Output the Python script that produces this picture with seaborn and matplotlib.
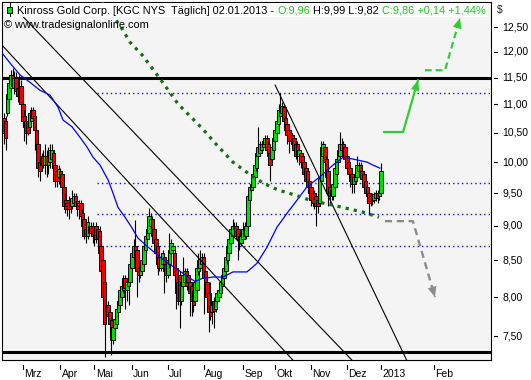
import numpy as np
import pandas as pd
import matplotlib
matplotlib.use("Agg")
import matplotlib.pyplot as plt
import seaborn as sns
from matplotlib.patches import Rectangle
from matplotlib.transforms import ScaledTranslation

# ---------------- data ----------------
opens = [10.75,10.70,10.85,11.10,11.30,11.55,11.30,11.50,11.30,11.10,11.35,11.00,10.80,10.70,10.70,10.60,10.70,10.90,10.80,10.55,
         10.30,10.00,10.10,10.10,9.95,10.10,9.95,10.00,10.05,10.15,9.95,9.85,9.75,9.85,9.80,9.60,9.40,9.35,9.40,9.38,
         9.30,9.35,9.45,9.38,9.35,9.35,9.20,9.10,8.95,8.85,8.90,9.00,9.00,8.85,9.00,8.95,8.93,8.70,8.50,8.20,
         7.90,7.90,7.80,7.70,7.45,7.60,7.65,7.80,7.90,8.00,8.10,8.25,8.10,8.15,8.20,8.40,8.55,8.70,8.65,8.40,
         8.30,8.35,8.45,8.65,8.80,8.90,9.00,9.10,8.95,8.80,8.70,8.55,8.40,8.45,8.55,8.45,8.30,8.45,8.60,8.65,
         8.60,8.40,8.20,8.30,7.95,8.15,8.20,8.35,8.30,8.20,8.15,8.10,7.95,8.10,8.35,8.40,8.45,8.55,8.35,8.20,
         8.05,7.90,7.80,7.95,7.85,7.95,8.00,8.05,8.15,8.25,8.35,8.50,8.60,8.75,8.85,8.95,9.00,8.95,8.85,8.75,
         8.80,8.95,8.85,9.00,9.40,9.55,9.60,9.75,9.90,10.10,10.15,10.20,10.25,10.30,10.40,10.30,10.15,10.05,10.20,10.35,
         10.50,10.65,10.80,10.85,10.95,10.75,10.65,10.55,10.50,10.45,10.40,10.30,10.30,10.10,10.15,10.10,10.00,9.90,9.85,9.70,
         9.60,9.50,9.50,9.45,9.40,9.35,9.70,10.10,10.25,10.05,9.85,9.60,9.55,9.45,9.60,9.80,10.00,10.10,10.20,10.30,
         10.25,10.10,10.00,9.90,9.80,9.65,9.70,9.75,9.85,9.95,9.85,9.80,9.70,9.60,9.50,9.45,9.38,9.40,9.42,9.50,
         9.45,9.50]
highs = [10.85,10.80,11.30,11.50,11.65,11.68,11.62,11.60,11.40,11.55,11.45,11.10,10.90,10.80,10.85,10.90,10.95,10.95,10.85,10.60,
         10.35,10.10,10.15,10.20,10.30,10.20,10.25,10.30,10.30,10.20,10.00,9.90,9.95,9.90,9.85,9.65,9.50,9.40,9.45,9.42,
         9.55,9.50,9.50,9.40,9.40,9.40,9.25,9.12,9.00,9.15,9.05,9.05,9.05,9.00,9.05,9.00,9.00,8.75,8.55,8.25,
         7.95,7.95,7.85,7.75,7.68,7.80,7.90,8.00,8.15,8.22,8.30,8.30,8.25,8.30,8.50,8.65,8.80,9.08,8.70,8.45,
         8.45,8.55,8.75,8.90,9.00,9.27,9.20,9.15,9.00,8.85,8.75,8.60,8.60,8.65,8.60,8.50,8.60,8.90,8.80,8.75,
         8.65,8.45,8.25,8.35,8.25,8.55,8.40,8.40,8.35,8.25,8.20,8.15,8.25,8.45,8.60,8.65,8.60,8.60,8.40,8.25,
         8.10,8.20,7.95,8.00,8.05,8.10,8.15,8.25,8.35,8.45,8.60,8.75,8.85,9.00,9.10,9.05,9.05,9.00,8.90,8.95,
         9.05,9.05,9.08,9.50,9.65,9.70,9.85,10.05,10.20,10.60,10.35,10.35,10.40,10.45,10.45,10.35,10.20,10.30,10.50,10.60,
         10.80,11.00,11.21,11.05,11.00,10.80,10.70,10.60,10.55,10.50,10.45,10.35,10.35,10.25,10.20,10.15,10.05,9.95,9.90,9.75,
         9.65,9.55,9.55,9.50,9.45,9.80,10.35,10.35,10.30,10.10,9.90,9.65,9.60,9.70,9.95,10.10,10.30,10.51,10.40,10.35,
         10.30,10.15,10.05,9.95,9.85,9.80,9.85,10.10,10.00,10.00,9.90,9.85,9.75,9.65,9.55,9.50,9.50,9.52,9.55,9.55,
         9.60,9.99]
lows = [10.30,10.20,10.80,11.00,11.20,11.30,11.20,11.15,11.05,11.00,10.90,10.60,10.35,10.30,10.45,10.55,10.60,10.60,10.20,10.15,
        9.75,9.70,9.85,9.90,9.80,9.75,9.80,9.90,9.95,9.85,9.60,9.60,9.65,9.65,9.50,9.25,9.20,9.15,9.10,9.20,
        9.25,9.30,9.25,9.15,9.10,9.10,8.95,8.80,8.75,8.80,8.85,8.85,8.75,8.70,8.75,8.70,8.50,8.30,7.95,7.25,
        7.70,7.65,7.55,7.27,7.40,7.50,7.60,7.75,7.85,7.95,8.05,7.85,7.95,7.90,8.15,8.35,8.50,8.50,8.00,8.20,
        8.25,8.30,8.40,8.60,8.75,8.85,8.95,8.80,8.70,8.50,8.30,8.35,8.35,8.40,8.05,8.20,8.25,8.40,8.55,8.50,
        8.20,7.85,7.90,7.60,7.90,8.10,8.15,8.10,8.10,7.75,7.75,7.80,7.90,8.05,8.30,8.35,8.40,7.78,8.10,7.95,
        7.55,7.70,7.65,7.60,7.80,7.90,7.95,8.00,8.10,8.20,8.30,8.45,8.55,8.70,8.80,8.90,8.80,8.50,8.65,8.70,
        8.75,8.80,8.80,8.95,9.35,9.50,9.55,9.70,9.85,10.05,10.10,10.15,10.20,10.20,10.15,10.00,9.70,10.00,10.15,10.30,
        10.45,10.60,10.75,10.80,10.60,10.50,10.30,10.15,10.30,10.25,10.15,10.05,10.00,9.95,9.90,9.90,9.75,9.65,9.50,9.45,
        9.30,9.30,9.25,9.00,9.20,9.30,9.65,10.00,9.95,9.70,9.30,9.35,9.40,9.40,9.55,9.75,9.95,10.05,10.15,10.10,
        10.00,9.85,9.75,9.60,9.50,9.50,9.65,9.70,9.80,9.75,9.65,9.55,9.45,9.40,9.18,9.30,9.32,9.35,9.38,9.35,
        9.40,9.45]
closes = [10.50,10.40,11.20,11.40,11.55,11.35,11.50,11.25,11.15,11.35,11.00,10.70,10.60,10.50,10.50,10.85,10.90,10.75,10.55,10.30,
          9.90,9.85,9.95,9.95,10.10,9.95,10.10,10.20,10.20,9.90,9.70,9.70,9.88,9.72,9.60,9.30,9.25,9.30,9.25,9.30,
          9.42,9.45,9.30,9.25,9.30,9.15,9.00,8.85,8.85,9.05,9.00,8.90,8.85,8.95,8.80,8.80,8.60,8.35,8.00,7.65,
          7.82,7.75,7.65,7.45,7.62,7.72,7.85,7.95,8.10,8.15,8.25,8.12,8.20,8.25,8.45,8.60,8.70,8.55,8.35,8.30,
          8.38,8.50,8.70,8.85,8.95,9.15,9.10,8.85,8.75,8.60,8.45,8.40,8.55,8.60,8.35,8.30,8.50,8.65,8.75,8.70,
          8.30,8.05,7.95,7.95,8.20,8.30,8.35,8.15,8.20,8.05,7.95,7.90,8.20,8.40,8.50,8.52,8.55,8.25,8.15,8.00,
          7.80,7.75,7.90,7.82,7.98,8.05,8.10,8.20,8.30,8.40,8.55,8.70,8.80,8.95,9.00,8.98,8.85,8.80,8.75,8.85,
          8.95,8.85,9.00,9.45,9.60,9.65,9.80,9.95,10.15,10.25,10.30,10.30,10.35,10.40,10.20,10.10,9.95,10.25,10.40,10.55,
          10.70,10.90,10.95,10.98,10.70,10.55,10.45,10.35,10.35,10.30,10.20,10.10,10.10,10.20,10.00,9.95,9.80,9.70,9.60,9.50,
          9.40,9.35,9.30,9.30,9.30,9.75,10.25,10.30,10.00,9.75,9.50,9.45,9.45,9.65,9.90,10.05,10.20,10.30,10.30,10.15,
          10.05,9.90,9.80,9.70,9.65,9.75,9.80,9.95,9.95,9.80,9.72,9.60,9.50,9.45,9.35,9.38,9.45,9.48,9.50,9.42,
          9.52,9.86]

holidays = ["2012-02-20", "2012-04-06", "2012-05-28", "2012-07-04", "2012-09-03",
            "2012-10-29", "2012-10-30", "2012-11-22", "2012-12-25"]
first_day, last_day = "2012-02-14", "2013-01-02"

month_labels = ["Mrz", "Apr", "Mai", "Jun", "Jul", "Aug", "Sep", "Okt", "Nov", "Dez", "2013", "Feb"]
month_starts = ["2012-03-01", "2012-04-01", "2012-05-01", "2012-06-01", "2012-07-01", "2012-08-01",
                "2012-09-01", "2012-10-01", "2012-11-01", "2012-12-01", "2013-01-01", "2013-02-01"]

y_ticks = [7.5, 8.0, 8.5, 9.0, 9.5, 10.0, 10.5, 11.0, 11.5, 12.0, 12.5]
y_tick_labels = ["7,50", "8,00", "8,50", "9,00", "9,50", "10,00", "10,50", "11,00", "11,50", "12,00", "12,50"]

# 50-day moving average (bar index, value) as drawn
ma_idx = [-1, 3.5, 9.4, 15.2, 21.1, 27, 31.7, 34.6, 39.9, 44.5, 48.7, 52.2, 56.3, 61, 63.9, 66.8, 70.9, 75,
          78.5, 84.4, 90.3, 96.1, 102, 107.9, 112, 116.1, 122.5, 128.4, 134.2, 142.4, 148.3, 154.2, 160,
          165.9, 170.6, 177.6, 185.2, 192.8, 198.7, 204.6, 212.8, 216.3, 220.4]
ma_val = [11.97, 11.78, 11.55, 11.41, 11.26, 11.17, 10.95, 10.72, 10.60, 10.42, 10.25, 10.08, 9.95, 9.71,
          9.50, 9.28, 9.13, 8.97, 8.82, 8.69, 8.57, 8.46, 8.37, 8.27, 8.21, 8.25, 8.27, 8.27, 8.34, 8.34,
          8.46, 8.69, 8.98, 9.19, 9.35, 9.60, 9.76, 9.95, 10.08, 10.05, 10.00, 9.95, 9.90]

thick_levels = [11.5, 7.30]
dotted_levels = [11.21, 9.66, 9.18, 8.70]
dotted_start = 54.5

trend1_idx, trend1_val = [-0.97, 206.7], [13.18, 7.15]
trend2_idx, trend2_val = [-3.5, 172.0], [12.22, 7.15]
trend3_idx, trend3_val = [158.9, 237.4], [11.36, 7.15]

proj_idx = [57.4, 68.6, 73.9, 80.9, 87.3, 93.2, 102.0, 116.6, 123.7, 134.2, 143.0, 151.8, 160.6,
            170.6, 180.5, 189.9, 199.9, 209.8, 219.8]
proj_val = [13.07, 12.50, 12.19, 11.94, 11.66, 11.40, 11.01, 10.56, 10.32, 10.00, 9.82, 9.66, 9.55,
            9.47, 9.38, 9.33, 9.27, 9.21, 9.13]

down_idx, down_val = [223.3, 239.7, 252.6], [9.07, 9.07, 8.00]
up1_idx, up1_val = [222.7, 233.9, 242.7], [10.51, 10.51, 11.45]
up2_idx, up2_val = [246.8, 258.5, 267.3], [11.64, 11.64, 12.69]

title_parts = [("Kinross Gold Corp. [KGC NYS  T\u00e4glich] 02.01.2013 - ", "black"),
               ("O:9,96", "green"), (" H:9,99 L:9,82 ", "black"),
               ("C:9,86 +0,14 +1,44%", "green")]
copyright_text = "\u00a9 www.tradesignalonline.com"

# ---------------- style ----------------
sns.set_style("white")
plt.rcParams["font.family"] = ["Liberation Sans", "DejaVu Sans"]

GREEN = "#00E000"
RED = "#F00000"
TGREEN = "#1DC81D"
W, H = 531, 380

fig = plt.figure(figsize=(W / 100, H / 100), dpi=100)
fig.patch.set_facecolor("white")
ax = fig.add_axes([2 / W, 1 - 360 / H, 489 / W, 358 / H])
ax.set_facecolor("#F4F4F4")
for s in ax.spines.values():
    s.set_color("black")
    s.set_linewidth(0.8)

dates = pd.bdate_range(first_day, last_day)
dates = dates[~dates.isin(pd.to_datetime(holidays))]
n = len(dates)


def pos(d):
    d = pd.Timestamp(d)
    if d <= dates[-1]:
        return int(np.searchsorted(dates.values, np.datetime64(d)))
    return n - 1 + (d - dates[-1]).days


ax.set_yscale("log")

# horizontal levels
for lv in thick_levels:
    ax.axhline(lv, color="black", lw=2.2, zorder=2)
for lv in dotted_levels:
    ax.plot([dotted_start, 300], [lv, lv], color="#1010E0", lw=1.0,
            linestyle=(0, (1, 2.2)), zorder=2)

# candles
for i, (o, h, l, c) in enumerate(zip(opens, highs, lows, closes)):
    z = 3 + i * 0.001
    ax.vlines(i, l, h, color="black", lw=0.8, zorder=z)
    ax.bar(i, max(abs(c - o), 0.01), bottom=min(o, c), width=2.1,
           color=GREEN if c >= o else RED, edgecolor="black", linewidth=0.65, zorder=z)

# trend lines
for tx, tv in [(trend1_idx, trend1_val), (trend2_idx, trend2_val), (trend3_idx, trend3_val)]:
    sns.lineplot(x=tx, y=tv, ax=ax, color="black", lw=0.8, zorder=4, estimator=None, sort=False)

# moving average
sns.lineplot(x=ma_idx, y=ma_val, ax=ax, color="#0000FF", lw=0.9, zorder=5, estimator=None, sort=False)

# projections
sns.lineplot(x=proj_idx, y=proj_val, ax=ax, color="#146E14", lw=2.3, linestyle=(0, (1, 1.6)),
             zorder=6, estimator=None, sort=False)
sns.lineplot(x=down_idx, y=down_val, ax=ax, color="#8C8C8C", lw=1.7, linestyle=(0, (3, 2)),
             zorder=6, estimator=None, sort=False)
sns.lineplot(x=up1_idx, y=up1_val, ax=ax, color="#33CC33", lw=1.6, zorder=6, estimator=None, sort=False)
sns.lineplot(x=up2_idx, y=up2_val, ax=ax, color="#33CC33", lw=1.6, linestyle=(0, (3, 1.8)),
             zorder=6, estimator=None, sort=False)
for xs, ys, col in [(down_idx, down_val, "#8C8C8C"), (up1_idx, up1_val, "#33CC33"),
                    (up2_idx, up2_val, "#33CC33")]:
    ax.annotate("", xy=(xs[-1], ys[-1]), xytext=(xs[-2], ys[-2]),
                arrowprops=dict(arrowstyle="-|>,head_length=0.75,head_width=0.32", color=col,
                                lw=0, shrinkA=0, shrinkB=0, mutation_scale=10), zorder=7)

ax.set_xlim((2 - 4) / 1.706, (491 - 4) / 1.706)
ax.set_ylim(7.21, 13.03)
ax.set_xticks([])
ax.set_yticks([])
ax.set_yticks([], minor=True)
ax.set_xlabel("")
ax.set_ylabel("")
if ax.get_legend():
    ax.get_legend().remove()

# y axis ticks / labels on the right
ytr = ax.get_yaxis_transform()
for v, lab in zip(y_ticks, y_tick_labels):
    ax.plot([1.0061, 1.0123], [v, v], transform=ytr, clip_on=False, color="black", lw=0.8)
    ax.text(1.0225, v, lab, transform=ytr, va="center", ha="left", fontsize=7.5, color="black")
ax.text(1.0123, (360 - 10) / 358, "$", transform=ax.transAxes, va="center", ha="left",
        fontsize=7.5, color="#202020")

# x axis ticks / labels
xtr = ax.get_xaxis_transform()
lab_tr = xtr + ScaledTranslation(1.3 / 100, 0, fig.dpi_scale_trans)
for d, lab in zip(month_starts, month_labels):
    p = pos(d)
    ax.plot([p, p], [-5 / 358, -9 / 358], transform=xtr, clip_on=False, color="black", lw=0.8)
    ax.text(p, -14 / 358, lab, transform=lab_tr, va="center", ha="left", fontsize=7.5, color="black")

# ---------------- title box ----------------
fig.add_artist(Rectangle((5 / W, 1 - 17 / H), 483 / W, 14 / H, transform=fig.transFigure,
                         facecolor="white", edgecolor="none", zorder=5))
fig.add_artist(plt.Line2D([9.5 / W, 9.5 / W], [1 - 3 / H, 1 - 16 / H], transform=fig.transFigure,
                          color="black", lw=0.8, zorder=6))
fig.add_artist(Rectangle((7 / W, 1 - 13 / H), 5 / W, 6 / H, transform=fig.transFigure,
                         facecolor=GREEN, edgecolor="black", lw=0.7, zorder=7))

fig.canvas.draw()
r = fig.canvas.get_renderer()


def measure(s, fs):
    t1 = fig.text(0, 0, s + "|", fontsize=fs)
    t2 = fig.text(0, 0, "|", fontsize=fs)
    w = t1.get_window_extent(r).width - t2.get_window_extent(r).width
    t1.remove()
    t2.remove()
    return w


full = "".join(p for p, _ in title_parts)
fs = 10 * 468 / measure(full, 10)
x = 17
for txt, col in title_parts:
    c = TGREEN if col == "green" else "black"
    fig.text(x / W, 1 - 10.5 / H, txt, fontsize=fs, color=c, va="center", ha="left", zorder=8)
    x += measure(txt, fs)
fig.text(4 / W, 1 - 24.5 / H, copyright_text, fontsize=fs, color="black", va="center", ha="left", zorder=8)

fig.savefig("out.png", dpi=100, facecolor="white")
